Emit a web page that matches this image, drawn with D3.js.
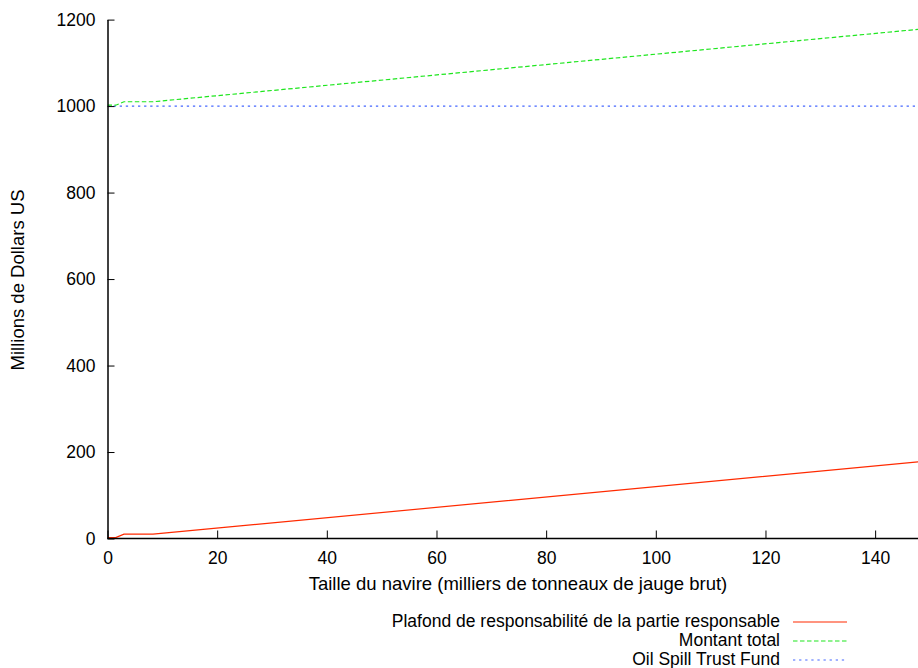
<!DOCTYPE html>
<html>
<head>
<meta charset="utf-8">
<script src="https://cdnjs.cloudflare.com/ajax/libs/d3/7.8.5/d3.min.js"></script>
<style>
html,body{margin:0;padding:0;background:#fff;}
svg{display:block;}
text{font-family:"Liberation Sans",Arial,Helvetica,sans-serif;fill:#000;}
</style>
</head>
<body>
<svg id="chart" width="918" height="668"></svg>
<script>
// Data (thousands of gross tons -> millions of US dollars)
const tonnage = [0, 1.5, 3, 8.3, 148];
const plafond = [2, 2, 10, 10, 177.6];
const montantTotal = [1002, 1002, 1010, 1010, 1177.6];
const trustFundX = [0, 148];
const trustFund = [1000, 1000];
const xTicks = [0, 20, 40, 60, 80, 100, 120, 140];
const yTicks = [0, 200, 400, 600, 800, 1000, 1200];
const seriesNames = ["Plafond de responsabilité de la partie responsable", "Montant total", "Oil Spill Trust Fund"];
const seriesColors = ["#ff2a00", "#1ee61e", "#4466ff"];
const seriesDash = [null, "4.5,2.5", "2.3,3.8"];

const svg = d3.select("#chart");
const x = d3.scaleLinear().domain([0, 148]).range([107.5, 919]);
const y = d3.scaleLinear().domain([0, 1200]).range([538.5, 19.6]);

svg.append("clipPath").attr("id","clip").append("rect")
  .attr("x", 107.5).attr("y", 0).attr("width", 918-107.5).attr("height", 540);

const line = d3.line().x(d => x(d[0])).y(d => y(d[1]));
const series = [
  d3.zip(tonnage, plafond),
  d3.zip(tonnage, montantTotal),
  d3.zip(trustFundX, trustFund)
];

const g = svg.append("g").attr("clip-path","url(#clip)");
[2,1,0].forEach(i => {
  g.append("path").datum(series[i])
    .attr("d", line)
    .attr("fill","none")
    .attr("stroke", seriesColors[i])
    .attr("stroke-width", 1.2)
    .attr("stroke-dasharray", seriesDash[i]);
});

// axes
const xAxis = d3.axisBottom(x).tickValues(xTicks).tickSizeInner(-8).tickSizeOuter(0).tickFormat(d3.format("d"));
const yAxis = d3.axisLeft(y).tickValues(yTicks).tickSizeInner(-7).tickSizeOuter(0).tickFormat(d3.format("d"));

const gx = svg.append("g").attr("transform", "translate(0,538.5)").call(xAxis);
const gy = svg.append("g").attr("transform", "translate(107.5,0)").call(yAxis);
[gx, gy].forEach(a => {
  a.select(".domain").attr("stroke","#000").attr("stroke-width",1.5);
  a.selectAll(".tick line").attr("stroke","#000").attr("stroke-width",1);
  a.selectAll(".tick text").style("font-size","17.5px").attr("fill","#000")
   .style("font-family","'Liberation Sans',Arial,sans-serif");
});
gx.selectAll(".tick text").attr("y", 13).attr("dy","0.71em");
gy.selectAll(".tick text").attr("x", -12);
gx.select(".domain").attr("d", `M${x(0)},0H918`);

// axis titles
svg.append("text")
  .attr("x", 518).attr("y", 590)
  .attr("text-anchor","middle")
  .style("font-size","18.5px")
  .text("Taille du navire (milliers de tonneaux de jauge brut)");
svg.append("text")
  .attr("transform", "translate(24,280) rotate(-90)")
  .attr("text-anchor","middle")
  .style("font-size","18.5px")
  .text("Millions de Dollars US");

// legend
const lg = svg.append("g");
const legendY = [622, 641, 660];
seriesNames.forEach((name, i) => {
  const yy = legendY[i];
  lg.append("text")
    .attr("x", 780).attr("y", yy + 5)
    .attr("text-anchor","end")
    .style("font-size","17.5px")
    .text(name);
  lg.append("line")
    .attr("x1", 793).attr("x2", 847)
    .attr("y1", yy).attr("y2", yy)
    .attr("stroke", seriesColors[i])
    .attr("stroke-width", 1.2)
    .attr("stroke-dasharray", seriesDash[i]);
});
</script>
</body>
</html>
